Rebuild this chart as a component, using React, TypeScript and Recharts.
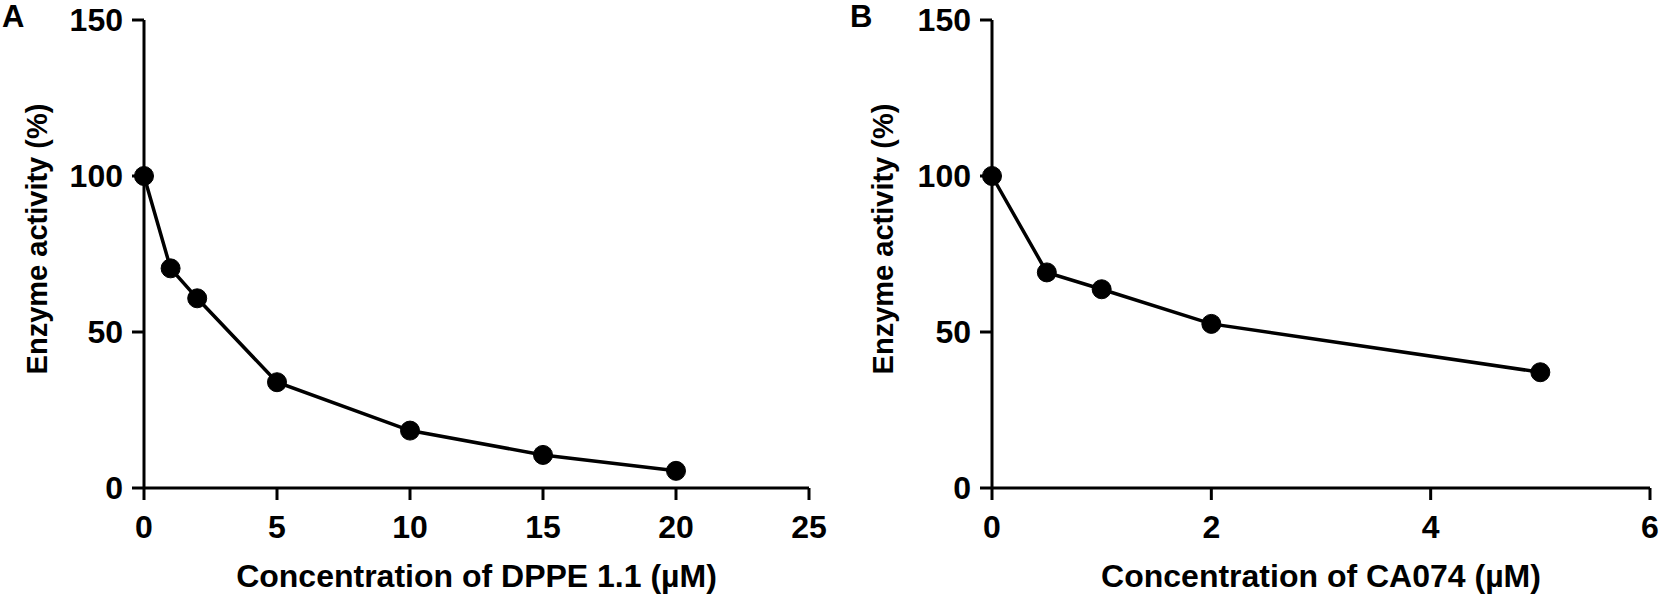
import React from "react";
import { LineChart, Line, XAxis, YAxis } from "recharts";

// panel A: DPPE 1.1
const dppeConc = [0, 1, 2, 5, 10, 15, 20];
const dppeActivity = [100, 70.4, 60.8, 33.9, 18.4, 10.6, 5.5];
const dppeTicks = [0, 5, 10, 15, 20, 25];

// panel B: CA074
const caConc = [0, 0.5, 1, 2, 5];
const caActivity = [100, 69.1, 63.7, 52.6, 37.1];
const caTicks = [0, 2, 4, 6];

const activityTicks = [0, 50, 100, 150];

const FONT = '"Liberation Sans", Arial, sans-serif';
const tickStyle = { fill: "#000", fontSize: 32, fontWeight: 700, fontFamily: FONT };

function Panel({
  conc,
  activity,
  xTicks,
  xMax,
  xLabel,
  yAxisWidth,
  width,
  marginRight,
  yLabelX,
}: {
  conc: number[];
  activity: number[];
  xTicks: number[];
  xMax: number;
  xLabel: string;
  yAxisWidth: number;
  width: number;
  marginRight: number;
  yLabelX: number;
}) {
  const data = conc.map((c, i) => ({ conc: c, activity: activity[i] }));
  const plotCenter = yAxisWidth + (width - marginRight - yAxisWidth) / 2;
  return (
    <LineChart
      width={width}
      height={601}
      data={data}
      margin={{ top: 20, right: marginRight, left: 0, bottom: 0 }}
    >
      <XAxis
        dataKey="conc"
        type="number"
        domain={[0, xMax]}
        ticks={xTicks}
        height={113}
        axisLine={{ stroke: "#000", strokeWidth: 3 }}
        tickLine={{ stroke: "#000", strokeWidth: 3 }}
        tickSize={12}
        tickMargin={15}
        tick={tickStyle}
        label={{
          content: () => (
            <text
              x={plotCenter}
              y={576}
              textAnchor="middle"
              dominantBaseline="central"
              style={{ fontSize: 32, fontWeight: 700, fontFamily: FONT, fill: "#000" }}
            >
              {xLabel}
            </text>
          ),
        }}
      />
      <YAxis
        type="number"
        domain={[0, 150]}
        ticks={activityTicks}
        width={yAxisWidth}
        axisLine={{ stroke: "#000", strokeWidth: 3 }}
        tickLine={{ stroke: "#000", strokeWidth: 3 }}
        tickSize={12}
        tickMargin={9}
        tick={tickStyle}
        label={{
          content: () => (
            <text
              x={yLabelX}
              y={239}
              transform={`rotate(-90 ${yLabelX} 239)`}
              textAnchor="middle"
              dominantBaseline="central"
              style={{ fontSize: 29, fontWeight: 700, fontFamily: FONT, fill: "#000" }}
            >
              Enzyme activity (%)
            </text>
          ),
        }}
      />
      <Line
        dataKey="activity"
        stroke="#000"
        strokeWidth={3.5}
        dot={{ r: 9.5, fill: "#000", stroke: "#000", strokeWidth: 1 }}
        isAnimationActive={false}
      />
    </LineChart>
  );
}

export default function App() {
  const letter: React.CSSProperties = {
    position: "absolute",
    top: 1,
    fontFamily: FONT,
    fontWeight: 700,
    fontSize: 31,
    lineHeight: "31px",
  };
  return (
    <div
      style={{
        position: "absolute",
        left: 0,
        top: 0,
        width: 1667,
        height: 601,
        background: "#fff",
      }}
    >
      <div style={{ position: "absolute", left: 0, top: 0 }}>
        <Panel
          conc={dppeConc}
          activity={dppeActivity}
          xTicks={dppeTicks}
          xMax={25}
          xLabel="Concentration of DPPE 1.1 (µM)"
          yAxisWidth={144}
          width={833}
          marginRight={24}
          yLabelX={37}
        />
      </div>
      <div style={{ position: "absolute", left: 833, top: 0 }}>
        <Panel
          conc={caConc}
          activity={caActivity}
          xTicks={caTicks}
          xMax={6}
          xLabel="Concentration of CA074 (µM)"
          yAxisWidth={159}
          width={834}
          marginRight={17}
          yLabelX={50}
        />
      </div>
      <div style={{ ...letter, left: 2 }}>A</div>
      <div style={{ ...letter, left: 850 }}>B</div>
    </div>
  );
}
